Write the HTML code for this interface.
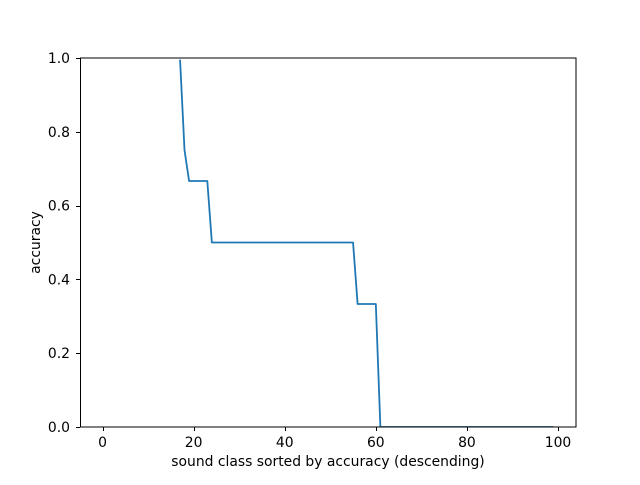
<!DOCTYPE html>
<html><head><meta charset="utf-8"><style>
body{margin:0;background:#fff}
text{font-family:"DejaVu Sans","Liberation Sans",sans-serif;font-size:13.9px;fill:#000}
</style></head><body>
<svg id="chart" width="640" height="480" xmlns="http://www.w3.org/2000/svg">
<rect width="640" height="480" fill="#fff"/>
<defs><clipPath id="clip"><rect x="80" y="59.6" width="496" height="367.9"/></clipPath></defs>
<g id="ticks"></g>
<path id="line" fill="none" stroke="#1f77b4" stroke-width="1.8" stroke-linejoin="round" clip-path="url(#clip)"/>
<rect x="80.5" y="58" width="495.5" height="369" fill="none" stroke="#000" stroke-width="1"/>
<text x="328" y="466" text-anchor="middle">sound class sorted by accuracy (descending)</text>
<text transform="translate(40,242.5) rotate(-90)" text-anchor="middle">accuracy</text>
</svg>
<script>
const segStarts = [0, 18, 19, 24, 56, 61];
const segValues = [1.0, 0.75, 0.6667, 0.5, 0.3333, 0.0];
const nPoints = 100;
const xTicks = [0, 20, 40, 60, 80, 100];
const yTicks = [0.0, 0.2, 0.4, 0.6, 0.8, 1.0];
const yTickLabels = ["0.0", "0.2", "0.4", "0.6", "0.8", "1.0"];

const xMin = -4.95, xMax = 103.95, yMin = 0, yMax = 1;
const L = 80, R = 576, T = 58, B = 427;
const sx = v => L + (v - xMin) / (xMax - xMin) * (R - L);
const sy = v => B - (v - yMin) / (yMax - yMin) * (B - T);
const NS = "http://www.w3.org/2000/svg";

const values = [];
for (let i = 0; i < nPoints; i++) {
  let v = segValues[0];
  for (let k = 0; k < segStarts.length; k++) if (i >= segStarts[k]) v = segValues[k];
  values.push(v);
}
document.getElementById('line').setAttribute('d', values.map((v, i) => (i ? 'L' : 'M') + sx(i).toFixed(2) + ',' + sy(v).toFixed(2)).join(''));

const g = document.getElementById('ticks');
xTicks.forEach(t => {
  const x = Math.round(sx(t)) + 0.5;
  const l = document.createElementNS(NS, 'line');
  
  
  l.setAttribute('x1', x); l.setAttribute('x2', x); l.setAttribute('y1', B); l.setAttribute('y2', B + 4);
  l.setAttribute('stroke', '#000'); l.setAttribute('stroke-width', '1');
  g.appendChild(l);
  const tx = document.createElementNS(NS, 'text');
  
  
  tx.setAttribute('x', sx(t)); tx.setAttribute('y', 447); tx.setAttribute('text-anchor', 'middle');
  tx.textContent = t;
  g.appendChild(tx);
});
yTicks.forEach((t, i) => {
  const y = Math.round(sy(t)) + 0.5;
  const l = document.createElementNS(NS, 'line');
  
  
  l.setAttribute('x1', L - 4); l.setAttribute('x2', L); l.setAttribute('y1', y); l.setAttribute('y2', y);
  l.setAttribute('stroke', '#000'); l.setAttribute('stroke-width', '1');
  g.appendChild(l);
  const tx = document.createElementNS(NS, 'text');
  
  
  tx.setAttribute('x', 70); tx.setAttribute('y', sy(t) + 5); tx.setAttribute('text-anchor', 'end');
  tx.textContent = yTickLabels[i];
  g.appendChild(tx);
});
</script>
</body></html>
